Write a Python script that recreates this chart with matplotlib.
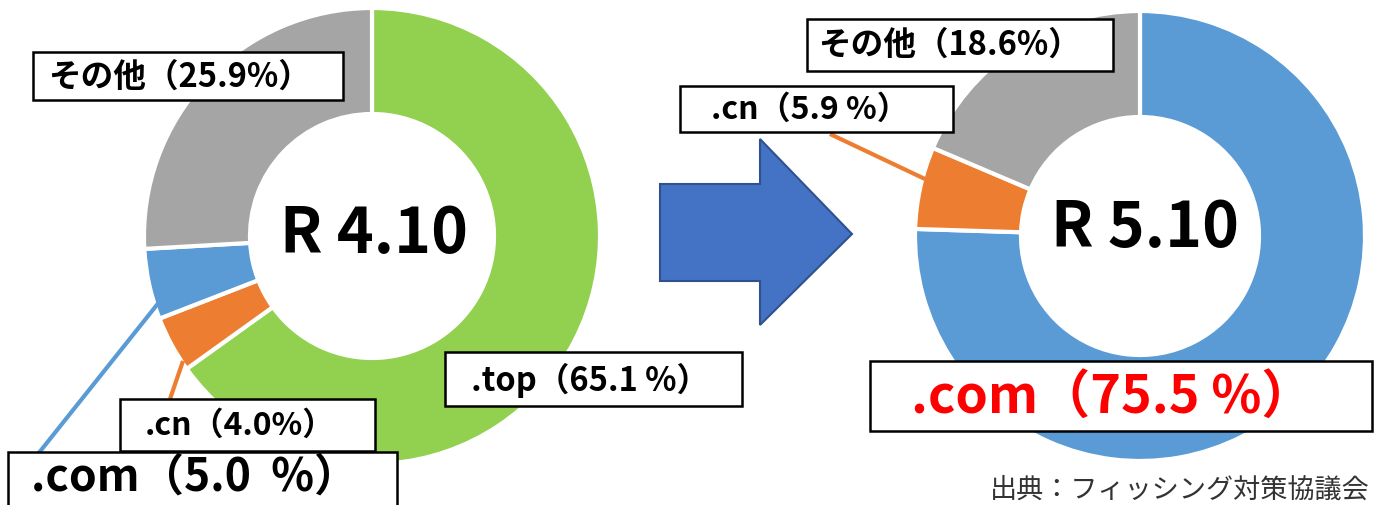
import matplotlib
matplotlib.use("Agg")
import matplotlib.pyplot as plt
from matplotlib.patches import Rectangle, Polygon

plt.rcParams['font.family'] = ['Noto Sans CJK JP', 'DejaVu Sans']

# ---- data ----
left_labels = ['.top', '.cn', '.com', 'その他']
left_values = [65.1, 4.0, 5.0, 25.9]
left_colors = ['#92D050', '#ED7D31', '#5B9BD5', '#A5A5A5']
left_title = 'R 4.10'

right_labels = ['.com', '.cn', 'その他']
right_values = [75.5, 5.9, 18.6]
right_colors = ['#5B9BD5', '#ED7D31', '#A5A5A5']
right_title = 'R 5.10'

source_text = '出典：フィッシング対策協議会'

W, H = 1391, 506
fig = plt.figure(figsize=(W / 100, H / 100), dpi=100)
ax = fig.add_axes([0, 0, 1, 1])

def Y(yp):
    return H - yp

# donuts
ax.pie(left_values, colors=left_colors, startangle=90, counterclock=False,
       center=(372, Y(237)), radius=228,
       wedgeprops=dict(width=106, edgecolor='white', linewidth=3))
ax.pie(right_values, colors=right_colors, startangle=90, counterclock=False,
       center=(1140, Y(237)), radius=225,
       wedgeprops=dict(width=106, edgecolor='white', linewidth=3))

ax.set_xlim(0, W)
ax.set_ylim(0, H)
ax.set_aspect('auto')
ax.axis('off')

# centre texts
ax.text(374, Y(235), left_title, ha='center', va='center', fontsize=45,
        fontweight='bold', color='black')
ax.text(1145, Y(228), right_title, ha='center', va='center', fontsize=45,
        fontweight='bold', color='black')

# arrow
arrow_px = [(660, 185), (760, 185), (760, 140), (852, 235), (760, 326),
            (760, 282), (660, 282)]
ax.add_patch(Polygon([(x, Y(y)) for x, y in arrow_px], closed=True,
                     facecolor='#4472C4', edgecolor='#2F528F', linewidth=1.5,
                     zorder=3))

# leader lines
ax.plot([38, 160], [Y(455), Y(302)], color='#5B9BD5', lw=3, zorder=4,
        solid_capstyle='butt')
ax.plot([170, 183], [Y(400), Y(362)], color='#ED7D31', lw=3, zorder=4,
        solid_capstyle='butt')
ax.plot([830, 925], [Y(135), Y(180)], color='#ED7D31', lw=3, zorder=4,
        solid_capstyle='butt')

def label_box(x0, y0, x1, y1, text, size, color='black', weight='bold',
              tx=None, ty=None):
    ax.add_patch(Rectangle((x0, Y(y1)), x1 - x0, y1 - y0, facecolor='white',
                           edgecolor='black', linewidth=1.8, zorder=5))
    cx = (x0 + x1) / 2 if tx is None else tx
    cy = (y0 + y1) / 2 if ty is None else ty
    ax.text(cx, Y(cy), text, ha='center', va='center', fontsize=size,
            fontweight=weight, color=color, zorder=6)

label_box(33, 53, 343, 101, f'{left_labels[3]}（{left_values[3]}%）', 23.5,
          tx=180)
label_box(445, 353, 742, 407, f'{left_labels[0]}（{left_values[0]} %）', 23.5,
          tx=590)
label_box(120, 400, 375, 452, f'{left_labels[1]}（{left_values[1]:.1f}%）', 23,
          tx=240)
label_box(8, 453, 397, 512, f'{left_labels[2]}（{left_values[2]:.1f}  %）', 32,
          tx=195, ty=478)

label_box(807, 20, 1113, 72, f'{right_labels[2]}（{right_values[2]}%）', 23.5,
          tx=950, ty=45)
label_box(680, 87, 953, 133, f'{right_labels[1]}（{right_values[1]} %）', 23,
          tx=810)
label_box(870, 362, 1372, 432, f'{right_labels[0]}（{right_values[0]} %）', 37.5,
          color='#FF0000', tx=1112)

ax.text(1370, Y(490), source_text, ha='right', va='center', fontsize=19.5,
        color='#333333', zorder=6)

fig.savefig('out.png', dpi=100)
